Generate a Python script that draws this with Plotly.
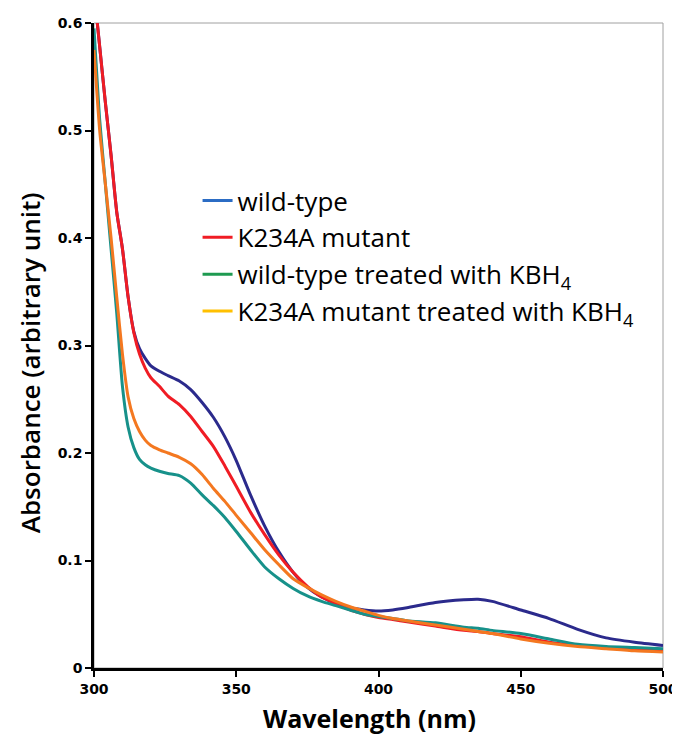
import plotly.graph_objects as go

wavelength = [300, 302, 304, 306, 308, 310, 312, 314, 316, 318, 320, 323, 326, 330, 334, 338,
              342, 346, 350, 355, 360, 365, 370, 375, 380, 385, 390, 395, 400, 405, 410, 420,
              430, 435, 440, 450, 460, 470, 480, 490, 500]

wild_type = [0.63, 0.578, 0.526, 0.477, 0.424, 0.39, 0.345, 0.313, 0.297, 0.288, 0.281, 0.276,
             0.272, 0.267, 0.259, 0.247, 0.233, 0.215, 0.193, 0.161, 0.132, 0.108, 0.089, 0.075,
             0.066, 0.060, 0.056, 0.054, 0.053, 0.054, 0.056, 0.061, 0.0635, 0.064, 0.062, 0.054,
             0.046, 0.036, 0.028, 0.024, 0.021]

k234a = [0.63, 0.578, 0.526, 0.477, 0.424, 0.39, 0.345, 0.312, 0.292, 0.279, 0.270, 0.262,
         0.253, 0.245, 0.234, 0.220, 0.206, 0.188, 0.169, 0.145, 0.124, 0.105, 0.089, 0.076,
         0.066, 0.060, 0.054, 0.050, 0.047, 0.045, 0.043, 0.039, 0.035, 0.034, 0.032, 0.029,
         0.024, 0.021, 0.019, 0.018, 0.017]

wild_type_kbh4 = [0.595, 0.51, 0.45, 0.39, 0.33, 0.262, 0.224, 0.205, 0.194, 0.189, 0.186, 0.183,
                  0.181, 0.179, 0.172, 0.161, 0.151, 0.140, 0.127, 0.110, 0.094, 0.083, 0.074, 0.067,
                  0.062, 0.058, 0.054, 0.050, 0.048, 0.046, 0.044, 0.042, 0.038, 0.037, 0.035, 0.032,
                  0.027, 0.022, 0.020, 0.019, 0.018]

k234a_kbh4 = [0.575, 0.50, 0.45, 0.40, 0.345, 0.292, 0.252, 0.232, 0.220, 0.212, 0.207, 0.203,
              0.200, 0.196, 0.190, 0.180, 0.167, 0.155, 0.142, 0.126, 0.110, 0.096, 0.083, 0.075,
              0.068, 0.062, 0.057, 0.053, 0.049, 0.046, 0.044, 0.040, 0.036, 0.034, 0.032, 0.027,
              0.023, 0.020, 0.018, 0.016, 0.015]

series_names = ["wild-type", "K234A mutant",
                "wild-type treated with KBH<sub>4</sub>",
                "K234A mutant treated with KBH<sub>4</sub>"]
line_colors = ["#2B2A8C", "#F01C24", "#17918A", "#F47820"]
legend_colors = ["#2B6CC4", "#F01C24", "#1E9A50", "#FFC000"]
series_values = [wild_type, k234a, wild_type_kbh4, k234a_kbh4]

x_ticks = [300, 350, 400, 450, 500]
y_ticks = [0, 0.1, 0.2, 0.3, 0.4, 0.5, 0.6]

fig = go.Figure()

for i in range(4):
    fig.add_trace(go.Scatter(x=wavelength, y=series_values[i], mode="lines",
                             line=dict(color=line_colors[i], width=3, shape="spline", smoothing=0.6),
                             showlegend=False, hoverinfo="skip"))

for i in range(4):
    fig.add_trace(go.Scatter(x=[None], y=[None], mode="lines", name=series_names[i],
                             line=dict(color=legend_colors[i], width=3)))

fig.add_shape(type="rect", xref="paper", yref="paper", x0=0, x1=1, y0=0, y1=1,
              line=dict(color="#A0A0A0", width=1), layer="below")

fig.add_annotation(text="Absorbance (arbitrary unit)", xref="paper", yref="paper",
                   x=-0.1125, y=0.474, textangle=-90, showarrow=False,
                   xanchor="center", yanchor="middle",
                   font=dict(family="Open Sans", size=26, weight=600, color="black"))
fig.add_annotation(text="Wavelength (nm)", xref="paper", yref="paper",
                   x=0.485, y=-0.078, showarrow=False,
                   xanchor="center", yanchor="middle",
                   font=dict(family="Open Sans", size=25, weight="bold", color="black"))

fig.update_layout(
    width=672, height=730,
    paper_bgcolor="white", plot_bgcolor="white",
    margin=dict(l=86, r=17, t=15, b=70),
    font=dict(family="DejaVu Sans", color="black"),
    legend=dict(x=0.182, y=0.761, xanchor="left", yanchor="top",
                font=dict(family="Open Sans", size=26, color="black"),
                bgcolor="rgba(0,0,0,0)", tracegroupgap=0, itemwidth=30),
    xaxis=dict(range=[300, 500], tickvals=x_ticks, showgrid=False, zeroline=False,
               showline=True, linecolor="black", linewidth=2.5, automargin=False,
               ticks="outside", ticklen=6, tickwidth=2, tickcolor="black",
               tickfont=dict(family="DejaVu Sans", size=14, weight="bold")),
    yaxis=dict(range=[0, 0.6], tickvals=y_ticks, showgrid=False, zeroline=False,
               showline=True, linecolor="black", linewidth=2.5, automargin=False,
               ticks="outside", ticklen=6, tickwidth=2, tickcolor="black",
               tickfont=dict(family="DejaVu Sans", size=14, weight="bold")),
)

fig.write_html("out.html")
